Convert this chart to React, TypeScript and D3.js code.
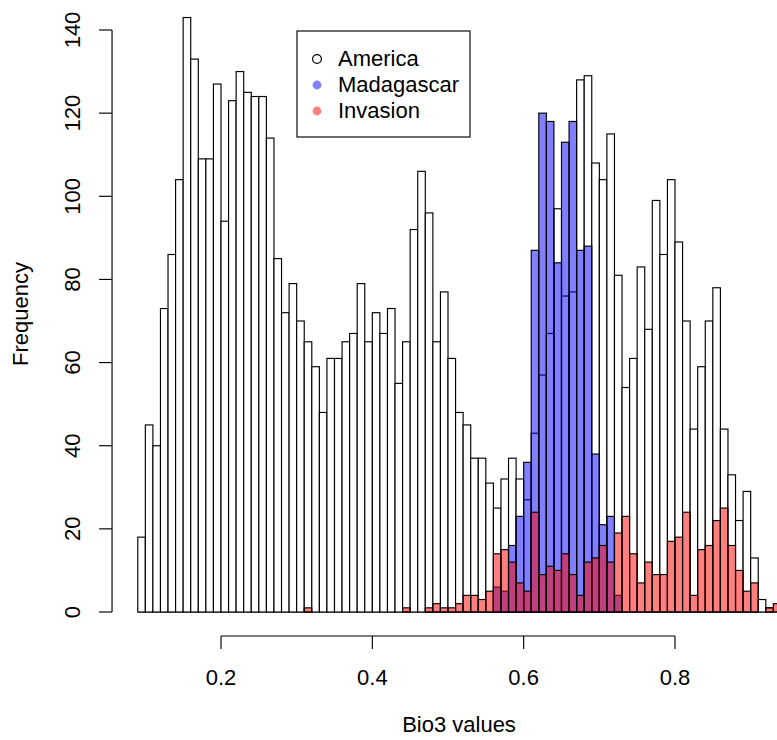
import React from "react";
import * as d3 from "d3";

const binStart = 0.09;
const binWidth = 0.01;

const america = [
  18, 45, 40, 73, 86, 104, 143, 133, 109, 109, 127, 94, 123, 130, 125, 124, 124, 114, 85, 72, 79,
  70, 65, 59, 48, 61, 61, 65, 67, 79, 65, 72, 67, 73, 55, 65, 92, 106, 96, 65, 77,
  61, 48, 45, 37, 37, 31, 25, 32, 37, 32, 27, 43, 57, 67, 97, 76, 77, 128, 129, 108,
  104, 115, 81, 54, 61, 83, 68, 99, 86, 104, 89, 70, 44, 59, 70, 78, 44, 33, 22, 29,
  13, 3, 1, 0,
];

const madagascarStart = 0.56;
const madagascar = [6, 5, 16, 23, 36, 87, 120, 118, 84, 113, 118, 87, 88, 38, 21, 23, 4];

const invasionStart = 0.31;
const invasion = [
  1, 0, 0, 0, 0, 0, 0, 0, 0, 0, 0, 0, 0, 1, 0, 0, 1, 2, 1, 1, 2, 4, 4, 3, 5,
  14, 15, 12, 7, 5, 24, 9, 11, 10, 14, 9, 4, 12, 13, 16, 12, 19, 23, 14, 7, 12, 9, 9,
  17, 18, 24, 4, 15, 16, 22, 25, 16, 10, 5, 7, 0, 1, 2,
];

const xTicks = [0.2, 0.4, 0.6, 0.8];
const yTicks = [0, 20, 40, 60, 80, 100, 120, 140];

const legendLabels = ["America", "Madagascar", "Invasion"];

const FONT = "'Liberation Sans', Arial, Helvetica, sans-serif";

export default function App() {
  const W = 777;
  const H = 740;
  const x = d3.scaleLinear().domain([0.2, 0.8]).range([221, 675]);
  const y = d3.scaleLinear().domain([0, 140]).range([612, 30]);
  const axisY = 636;
  const axisX = x(0.056);
  const sw = 1.15;

  const bars = (vals: number[], start: number, fill: string, key: string) =>
    vals.map((v, i) => {
      if (v <= 0) return null;
      const lo = start + i * binWidth;
      const x0 = x(lo);
      const x1 = x(lo + binWidth);
      return (
        <rect
          key={key + i}
          x={x0}
          y={y(v)}
          width={x1 - x0}
          height={y(0) - y(v)}
          fill={fill}
          stroke="#000"
          strokeWidth={sw}
        />
      );
    });

  const legendColors = ["none", "rgba(0,0,255,0.5)", "rgba(255,0,0,0.5)"];

  return (
    <svg
      width={W}
      height={H}
      style={{ position: "absolute", left: 0, top: 0, background: "#fff" }}
      fontFamily={FONT}
    >
      <rect x={0} y={0} width={W} height={H} fill="#fff" />
      <line x1={x(binStart)} x2={W} y1={y(0)} y2={y(0)} stroke="#000" strokeWidth={sw} />
      {bars(america, binStart, "#fff", "a")}
      {bars(madagascar, madagascarStart, "rgba(0,0,255,0.5)", "m")}
      {bars(invasion, invasionStart, "rgba(255,0,0,0.5)", "i")}

      {/* x axis */}
      <line x1={x(0.2)} x2={x(0.8)} y1={axisY} y2={axisY} stroke="#000" strokeWidth={sw} />
      {xTicks.map((t) => (
        <g key={"xt" + t}>
          <line x1={x(t)} x2={x(t)} y1={axisY} y2={axisY + 13} stroke="#000" strokeWidth={sw} />
          <text x={x(t)} y={685} textAnchor="middle" fontSize={22} fill="#000">
            {t.toFixed(1)}
          </text>
        </g>
      ))}
      <text x={459} y={732} textAnchor="middle" fontSize={22} fill="#000">
        Bio3 values
      </text>

      {/* y axis */}
      <line x1={axisX} x2={axisX} y1={y(0)} y2={y(140)} stroke="#000" strokeWidth={sw} />
      {yTicks.map((t) => (
        <g key={"yt" + t}>
          <line x1={axisX - 13} x2={axisX} y1={y(t)} y2={y(t)} stroke="#000" strokeWidth={sw} />
          <text
            transform={`translate(80,${y(t)}) rotate(-90)`}
            textAnchor="middle"
            fontSize={22}
            fill="#000"
          >
            {t}
          </text>
        </g>
      ))}
      <text
        transform={`translate(28,314) rotate(-90)`}
        textAnchor="middle"
        fontSize={22}
        fill="#000"
      >
        Frequency
      </text>

      {/* legend */}
      <rect x={297} y={31} width={173} height={106} fill="#fff" stroke="#000" strokeWidth={sw} />
      {legendLabels.map((lab, i) => (
        <g key={lab}>
          <circle
            cx={317}
            cy={59 + i * 26}
            r={4.4}
            fill={legendColors[i]}
            stroke={i === 0 ? "#000" : "none"}
            strokeWidth={1.2}
          />
          <text x={338} y={66 + i * 26} fontSize={22} fill="#000">
            {lab}
          </text>
        </g>
      ))}
    </svg>
  );
}
